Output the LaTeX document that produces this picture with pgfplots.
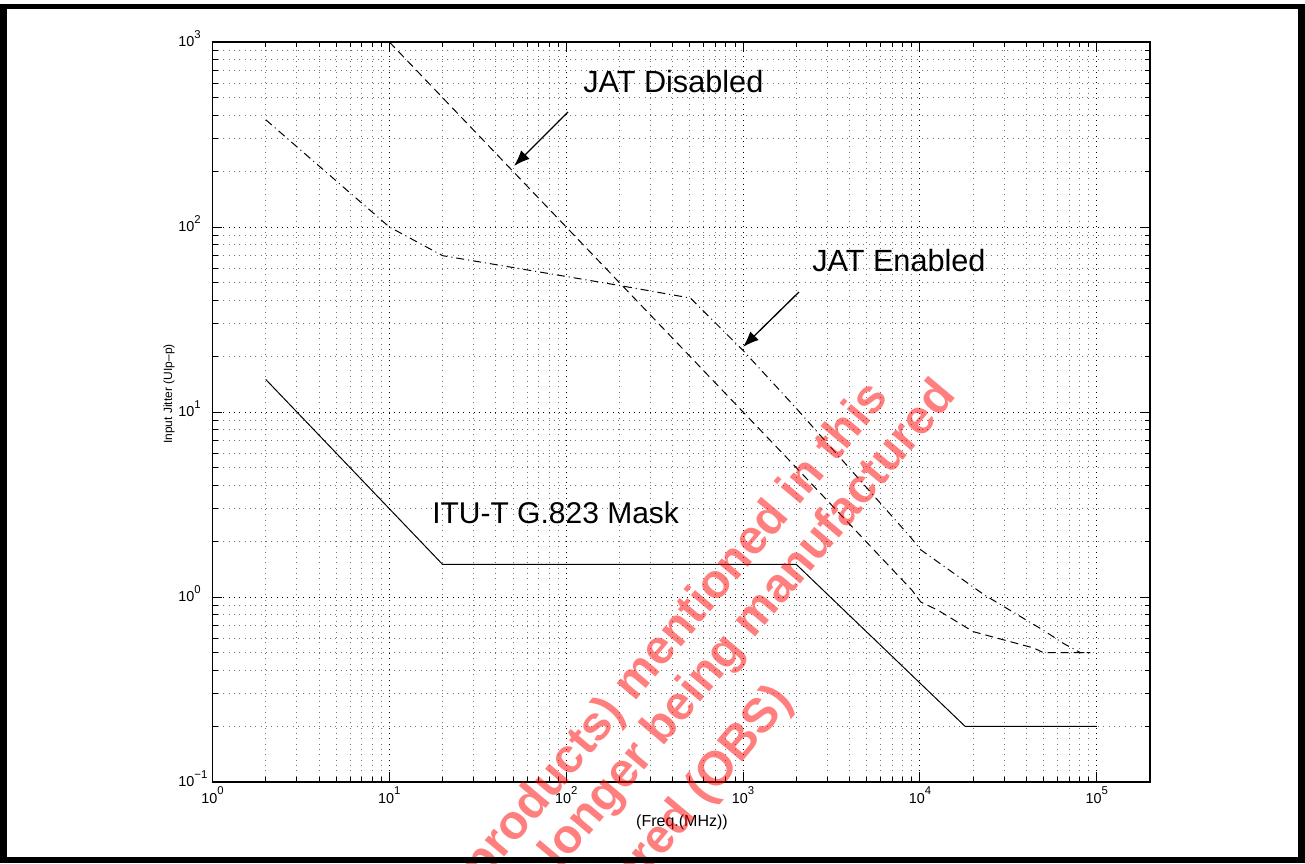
\documentclass[border=0pt]{standalone}
\usepackage{fontspec}
\setmainfont{Liberation Sans}
\usepackage{pgfplots}
\pgfplotsset{compat=1.18}
\usetikzlibrary{arrows.meta}
\newcommand{\xe}[1]{10\raisebox{6.5pt}{\fontsize{8.5}{8.5}\selectfont #1}}
\newcommand{\ye}[1]{10\rlap{\smash{\raisebox{6.5pt}{\fontsize{8.5}{8.5}\selectfont #1}}}}
\begin{document}
\begin{tikzpicture}[x=0.75pt,y=0.75pt]
\path[use as bounding box] (0,0) rectangle (1305,863);
\fill[white] (0,0) rectangle (1305,863);
\begin{axis}[
  at={(159.375pt,60.75pt)}, anchor=south west,
  scale only axis, width=703.125pt, height=555pt,
  xmode=log, ymode=log,
  xmin=1, xmax=2e5, ymin=0.1, ymax=1000,
  tick pos=both, tick align=inside,
  xtick={1,10,100,1000,10000,100000},
  xticklabels={\xe{0},\xe{1},\xe{2},\xe{3},\xe{4},\xe{5}},
  ytick={0.1,1,10,100,1000},
  yticklabels={\ye{−1},\ye{0},\ye{1},\ye{2},\ye{3}},
  minor xtick={2,3,4,5,6,7,8,9,20,30,40,50,60,70,80,90,200,300,400,500,600,700,800,900,2000,3000,4000,5000,6000,7000,8000,9000,20000,30000,40000,50000,60000,70000,80000,90000},
  minor ytick={0.2,0.3,0.4,0.5,0.6,0.7,0.8,0.9,2,3,4,5,6,7,8,9,20,30,40,50,60,70,80,90,200,300,400,500,600,700,800,900},
  xticklabel style={font=\fontsize{10.8}{12}\selectfont},
  yticklabel style={font=\fontsize{10.8}{12}\selectfont, xshift=-10pt},
  major tick length=7.5pt, minor tick length=4pt,
  every tick/.style={black, line width=0.7pt},
  axis line style={line width=1.2pt},
  grid=both,
  major grid style={black, line width=0.7pt, dash pattern=on 0.7pt off 3.3pt},
  minor grid style={black!55, line width=0.7pt, dash pattern=on 0.7pt off 3.3pt},
]
% ITU-T G.823 mask
\addplot[black, line width=0.75pt, solid] coordinates {
 (2,15) (20,1.5) (2000,1.5) (18000,0.2) (100000,0.2)};
% JAT disabled
\addplot[black, line width=0.75pt, dash pattern=on 6pt off 3.75pt] coordinates {
 (10,1000) (50,200) (100,100) (441,22.7) (1000,10) (2000,5) (9000,1.09)
 (10100,0.94) (12600,0.85) (20000,0.65) (44000,0.53) (50000,0.5) (92000,0.5)};
% JAT enabled
\addplot[black, line width=0.75pt, dash pattern=on 6pt off 3pt on 0.75pt off 3pt] coordinates {
 (2,380) (10,100) (20,70) (195,48.5) (504,41.3) (1000,21.5) (2030,10.3)
 (8870,2.1) (10100,1.8) (23000,1.03) (50000,0.66) (65000,0.56) (81000,0.5) (92000,0.5)};
\end{axis}
% annotations
\node[anchor=base west, inner sep=0, font=\fontsize{23}{27}\selectfont] at (583,770) {JAT Disabled};
\node[anchor=base west, inner sep=0, font=\fontsize{23}{27}\selectfont] at (812,591) {JAT Enabled};
\node[anchor=base west, inner sep=0, font=\fontsize{22.5}{27}\selectfont] at (432,339) {ITU-T G.823 Mask};
\draw[line width=1pt, -{Latex[length=12pt,width=9pt]}] (568,751) -- (514,697);
\draw[line width=1pt, -{Latex[length=12pt,width=9pt]}] (799,571) -- (743,516);
% axis labels
\node[rotate=90, font=\fontsize{9}{11}\selectfont] at (169,469) {Input Jitter (UIp–p)};
\node[font=\fontsize{12}{14}\selectfont] at (682,41) {(Freq.(MHz))};
% watermark
\begin{scope}
\clip (0,0) rectangle (1305,863);
\tikzset{wm/.style={rotate=50, anchor=base east, inner sep=0, text=red, text opacity=0.5,
  font=\bfseries\fontsize{36}{42}\selectfont}}
\node[wm] at (890,465) {The products) mentioned in this};
\node[wm] at (958,467) {document are no longer being manufactured};
\node[wm] at (794,162) {and are considered (OBS)};
\end{scope}
% frame
\fill[black] (0,0) rectangle (1305,6);
\fill[black] (0,853.5) rectangle (1305,859);
\fill[black] (0,0) rectangle (7,859);
\fill[black] (1298,0) rectangle (1305,859);
\end{tikzpicture}
\end{document}
